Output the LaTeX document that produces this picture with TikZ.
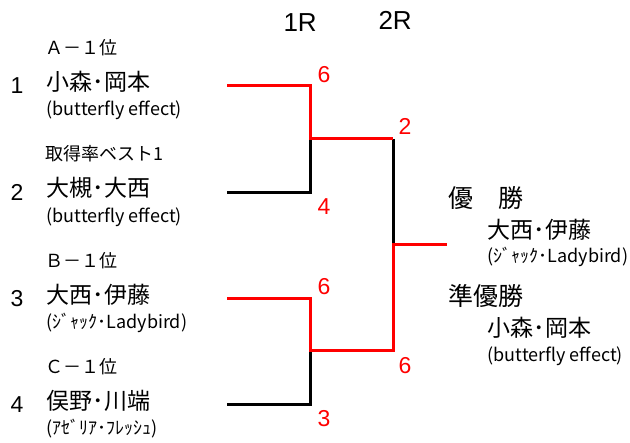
\documentclass[tikz,border=0pt]{standalone}
\usepackage{fontspec}
\setmainfont{Liberation Sans}
\newfontfamily\jp{Noto Sans CJK JP}

\begin{document}
\begin{tikzpicture}[x=1pt,y=-1pt,line width=3pt,
    seed/.style={anchor=base west,inner sep=0pt,font=\fontsize{23}{23}\selectfont},
    rank/.style={anchor=base west,inner sep=0pt,font=\jp\fontsize{18}{18}\selectfont},
    player/.style={anchor=base west,inner sep=0pt,font=\jp\fontsize{23}{23}\selectfont},
    team/.style={anchor=base west,inner sep=0pt,font=\jp\fontsize{18}{18}\selectfont},
    score/.style={anchor=base west,inner sep=0pt,text=red,font=\fontsize{23}{23}\selectfont},
    roundhead/.style={anchor=base west,inner sep=0pt,font=\fontsize{26}{26}\selectfont},
    title/.style={anchor=base west,inner sep=0pt,font=\jp\fontsize{25}{25}\selectfont},
    win/.style={draw=red},
    lose/.style={draw=black}]
    \useasboundingbox (0,0) rectangle (630,443);
    % headers
    \node[roundhead] (r1) at (282,32) {1R};
    \node[roundhead] (r2) at (377,30) {2R};
    % entries
    \foreach \i/\rk/\pl/\tm in {1/{Ａ－１位}/{小森･岡本}/{(butterfly effect)},
        2/{取得率ベスト1}/{大槻･大西}/{(butterfly effect)},
        3/{Ｂ－１位}/{大西･伊藤}/{(ｼﾞｬｯｸ･Ladybird)},
        4/{Ｃ－１位}/{俣野･川端}/{(ｱｾﾞﾘｱ･ﾌﾚｯｼｭ)}}{
        \pgfmathsetmacro\yy{86+(\i-1)*106.3}
        \node[seed] (seed\i) at (9,\yy+8) {\i};
        \node[rank] (rank\i) at (44,\yy-31.3) {\rk};
        \node[player] (player\i) at (45,\yy+4.5) {\pl};
        \node[team] (team\i) at (45,\yy+30) {\tm};
        \coordinate (a\i) at (227,\yy);
        \coordinate (b\i) at (310,\yy);
    }
    \coordinate (m1) at (310,139);
    \coordinate (m2) at (310,351);
    \coordinate (n1) at (393,139);
    \coordinate (n2) at (393,351);
    \coordinate (f) at (393,245);
    \coordinate (w) at (447,245);
    % bracket
    \draw[lose] (a2)--(b2)--(m1);
    \draw[lose] (a4)--(b4)--(m2);
    \draw[lose] (n1)--(f);
    \draw[win] (a1)--(b1)--(m1)--(n1);
    \draw[win] (a3)--(b3)--(m2)--(n2)--(f)--(w);
    % scores
    \node[score] (s1) at (316,83) {6};
    \node[score] (s2) at (316,215) {4};
    \node[score] (s3) at (316,295) {6};
    \node[score] (s4) at (316,427) {3};
    \node[score] (s5) at (397,135) {2};
    \node[score] (s6) at (397,374) {6};
    % results
    \node[title] (champ) at (447,208) {優　勝};
    \node[player] (champname) at (486,238.5) {大西･伊藤};
    \node[team] (champteam) at (486,263) {(ｼﾞｬｯｸ･Ladybird)};
    \node[title] (runner) at (447,306) {準優勝};
    \node[player] (runnername) at (486,336.5) {小森･岡本};
    \node[team] (runnerteam) at (486,362) {(butterfly effect)};
\end{tikzpicture}
\end{document}
